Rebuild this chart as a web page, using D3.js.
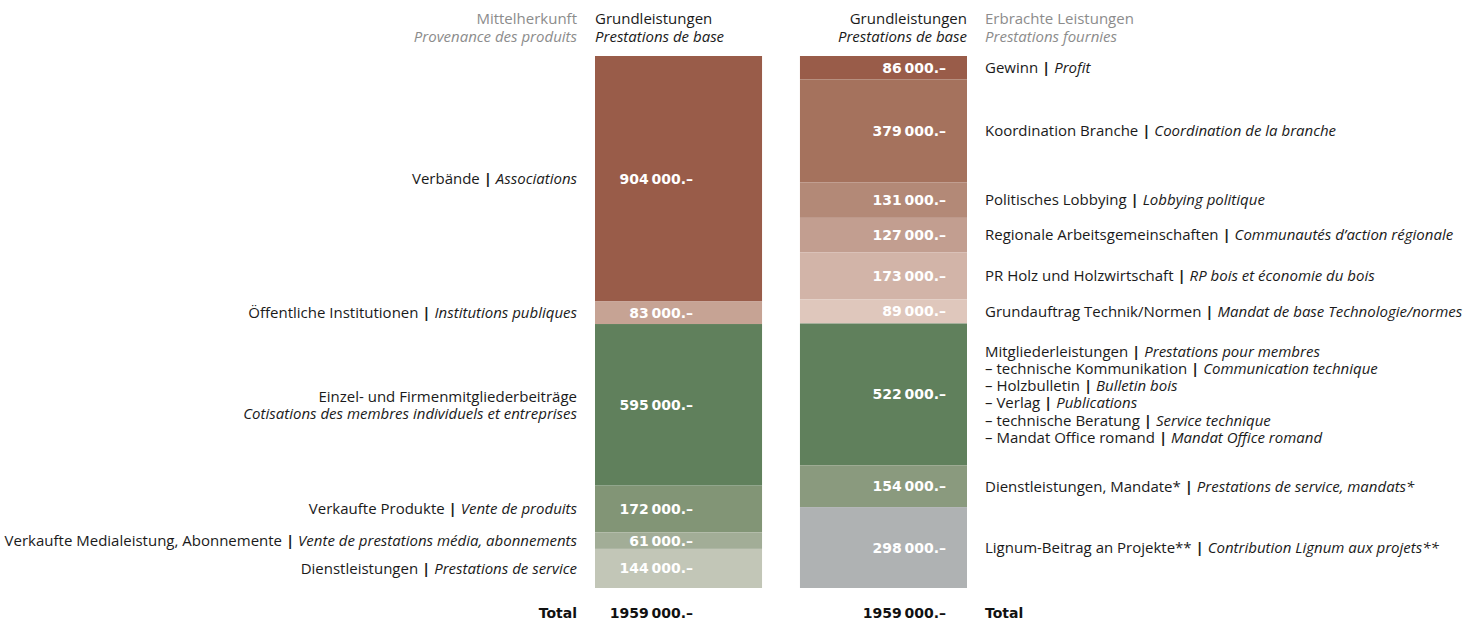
<!DOCTYPE html>
<html>
<head>
<meta charset="utf-8">
<script src="https://cdn.jsdelivr.net/npm/d3@7"></script>
<style>
  body { margin: 0; background: #fff; }
  svg text { font-family: "Open Sans", sans-serif; font-size: 15px; }
  svg text.num { font-family: "DejaVu Sans", sans-serif; font-size: 14px; font-weight: bold; }
</style>
</head>
<body>
<svg id="chart" width="1477" height="622"></svg>
<script>
// Mittelherkunft (left column)
var srcValues = [904000, 83000, 595000, 172000, 61000, 144000];
var srcColors = ['#995c49', '#c6a394', '#60805c', '#829576', '#a2ad97', '#c2c6b7'];
var srcLabels = [
    [['Verbände', 'Associations']],
    [['Öffentliche Institutionen', 'Institutions publiques']],
    [['Einzel- und Firmenmitgliederbeiträge', null], [null, 'Cotisations des membres individuels et entreprises']],
    [['Verkaufte Produkte', 'Vente de produits']],
    [['Verkaufte Medialeistung, Abonnemente', 'Vente de prestations média, abonnements']],
    [['Dienstleistungen', 'Prestations de service']]
];

// Erbrachte Leistungen (right column)
var useValues = [86000, 379000, 131000, 127000, 173000, 89000, 522000, 154000, 298000];
var useColors = ['#995c49', '#a5725d', '#b38977', '#c29e90', '#d2b4a8', '#dfc7bc', '#60805c', '#8a9a7e', '#afb2b3'];
var useLabels = [
    [['Gewinn', 'Profit']],
    [['Koordination Branche', 'Coordination de la branche']],
    [['Politisches Lobbying', 'Lobbying politique']],
    [['Regionale Arbeitsgemeinschaften', 'Communautés d’action régionale']],
    [['PR Holz und Holzwirtschaft', 'RP bois et économie du bois']],
    [['Grundauftrag Technik/Normen', 'Mandat de base Technologie/normes']],
    [['Mitgliederleistungen', 'Prestations pour membres'],
     ['– technische Kommunikation', 'Communication technique'],
     ['– Holzbulletin', 'Bulletin bois'],
     ['– Verlag', 'Publications'],
     ['– technische Beratung', 'Service technique'],
     ['– Mandat Office romand', 'Mandat Office romand']],
    [['Dienstleistungen, Mandate*', 'Prestations de service, mandats*']],
    [['Lignum-Beitrag an Projekte**', 'Contribution Lignum aux projets**']]
];

var headers = {
    srcDe: 'Mittelherkunft', srcFr: 'Provenance des produits',
    baseDe: 'Grundleistungen', baseFr: 'Prestations de base',
    useDe: 'Erbrachte Leistungen', useFr: 'Prestations fournies'
};

var total = d3.sum(srcValues);
var svg = d3.select('#chart');

var x = d3.scaleBand().domain(['src', 'use']).range([595, 967]).paddingInner(0.185);
var y = d3.scaleLinear().domain([0, total]).range([56, 588]);

// 904000 -> "904 000.–", 1959000 -> "1959 000.–"
var fmt = function(v) {
    return Math.floor(v / 1000) + '\u2009' + d3.format('03d')(v % 1000) + '.–';
};

var stackUp = function(values) {
    var acc = 0;
    return values.map(function(v, i) {
        var d = { i: i, v: v, y0: acc, y1: acc + v };
        acc += v;
        return d;
    });
};

var addLine = function(t, line) {
    if (line[0]) t.append('tspan').text(line[0]);
    if (line[0] && line[1]) t.append('tspan').style('font-weight', 'bold').text(' | ');
    if (line[1]) t.append('tspan').style('font-style', 'italic').text(line[1]);
};

var drawColumn = function(key, values, colors, labels, valueX, labelX, anchor) {
    var data = stackUp(values);
    var g = svg.append('g').attr('class', 'col-' + key);

    g.selectAll('rect').data(data).enter().append('rect')
        .attr('x', x(key))
        .attr('width', x.bandwidth())
        .attr('y', function(d) { return y(d.y0); })
        .attr('height', function(d) { return y(d.y1) - y(d.y0); })
        .style('fill', function(d) { return colors[d.i]; });

    g.selectAll('.num').data(data).enter().append('text')
        .attr('class', 'num')
        .attr('x', valueX)
        .attr('y', function(d) { return (y(d.y0) + y(d.y1)) / 2; })
        .attr('dy', '0.36em')
        .style('text-anchor', 'end')
        .style('fill', '#fff')
        .text(function(d) { return fmt(d.v); });

    data.forEach(function(d) {
        var lines = labels[d.i];
        var mid = (y(d.y0) + y(d.y1)) / 2;
        var top = mid - (lines.length - 1) * 17.2 / 2;
        lines.forEach(function(line, j) {
            var t = g.append('text')
                .attr('x', labelX)
                .attr('y', top + j * 17.2)
                .attr('dy', '0.36em')
                .style('text-anchor', anchor)
                .style('fill', '#1a1a1a');
            addLine(t, line);
        });
    });
};

drawColumn('src', srcValues, srcColors, srcLabels, 693, 577, 'end');
drawColumn('use', useValues, useColors, useLabels, 946, 985, 'start');

// headers
var hdr = [
    { x: 577, anchor: 'end', color: '#8c8c8c', de: headers.srcDe, fr: headers.srcFr },
    { x: 595, anchor: 'start', color: '#1a1a1a', de: headers.baseDe, fr: headers.baseFr },
    { x: 967, anchor: 'end', color: '#1a1a1a', de: headers.baseDe, fr: headers.baseFr },
    { x: 985, anchor: 'start', color: '#8c8c8c', de: headers.useDe, fr: headers.useFr }
];
hdr.forEach(function(h) {
    svg.append('text').attr('x', h.x).attr('y', 24)
        .style('text-anchor', h.anchor).style('fill', h.color).text(h.de);
    svg.append('text').attr('x', h.x).attr('y', 42)
        .style('text-anchor', h.anchor).style('fill', h.color)
        .style('font-style', 'italic').text(h.fr);
});

// totals
var totalsRow = [
    { x: 577, anchor: 'end', text: 'Total' },
    { x: 693, anchor: 'end', text: fmt(d3.sum(srcValues)) },
    { x: 946, anchor: 'end', text: fmt(d3.sum(useValues)) },
    { x: 985, anchor: 'start', text: 'Total' }
];
svg.selectAll('.total').data(totalsRow).enter().append('text')
    .attr('class', 'total num')
    .attr('x', function(d) { return d.x; })
    .attr('y', 618)
    .style('text-anchor', function(d) { return d.anchor; })
    .style('fill', '#111')
    .text(function(d) { return d.text; });
</script>
</body>
</html>
